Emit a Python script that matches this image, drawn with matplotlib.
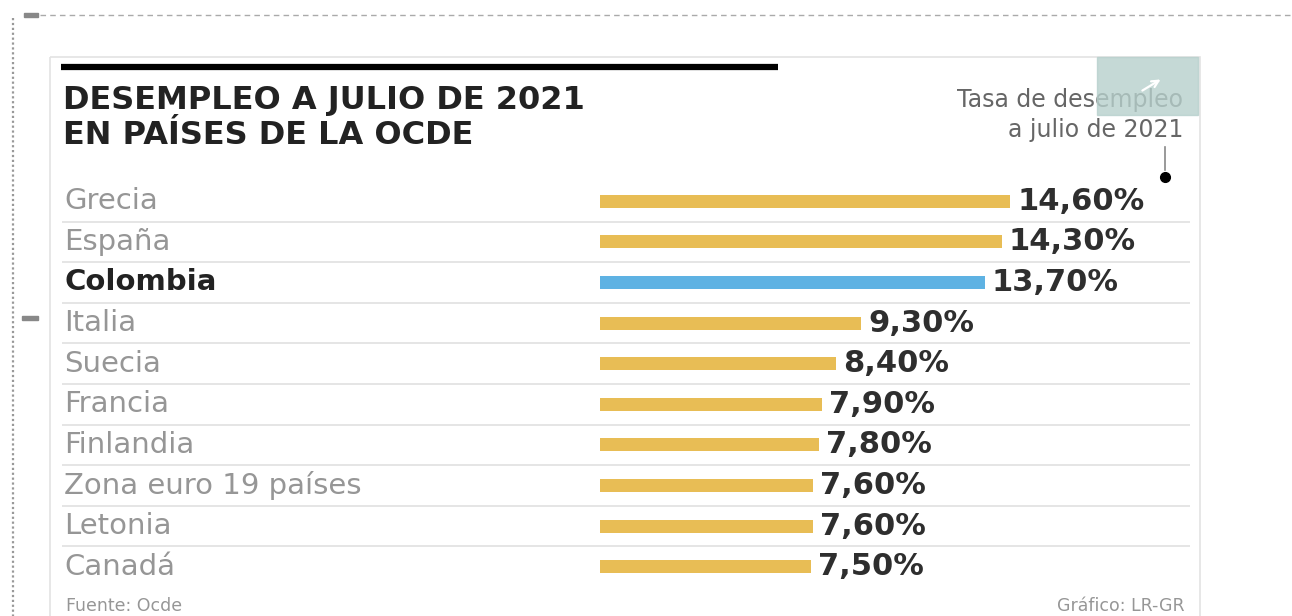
import matplotlib.pyplot as plt
from matplotlib.patches import Rectangle, FancyArrowPatch
from matplotlib.lines import Line2D

# datos (Fuente: Ocde)
paises = ["Grecia", "España", "Colombia", "Italia", "Suecia", "Francia",
          "Finlandia", "Zona euro 19 países", "Letonia", "Canadá"]
tasas = [14.6, 14.3, 13.7, 9.3, 8.4, 7.9, 7.8, 7.6, 7.6, 7.5]
etiquetas = ["14,60%", "14,30%", "13,70%", "9,30%", "8,40%", "7,90%",
             "7,80%", "7,60%", "7,60%", "7,50%"]
destacado = "Colombia"

W, H = 1292, 616
ORO = "#E8BD55"
AZUL = "#5EB2E3"
GRIS = "#969696"
OSCURO = "#2e2e2e"
FONT = ["DejaVu Sans"]

fig = plt.figure(figsize=(W / 100, H / 100), dpi=100)
fig.patch.set_facecolor("white")

# capa de fondo en coordenadas de pixel
bg = fig.add_axes([0, 0, 1, 1])
bg.set_xlim(0, W)
bg.set_ylim(H, 0)
bg.axis("off")

# bordes punteados del recorte
bg.add_line(Line2D([13, 13], [18, H], color="#999999", lw=1.6, ls=(0, (1, 1.2))))
bg.add_line(Line2D([40, W], [15, 15], color="#aaaaaa", lw=1.0, ls=(0, (4, 3))))
bg.add_patch(Rectangle((24, 13), 14, 4, color="#888888"))
bg.add_patch(Rectangle((22, 316), 16, 4, color="#888888"))

# tarjeta
bg.add_patch(Rectangle((50, 57), 1150, 565, fill=False, ec="#e3e3e3", lw=1.2))
bg.add_line(Line2D([61, 778], [66.5, 66.5], color="black", lw=4.5, solid_capstyle="butt"))

for y, linea in [(101, "DESEMPLEO A JULIO DE 2021"), (135, "EN PAÍSES DE LA OCDE")]:
    bg.text(63, y, linea, fontsize=23, fontweight="bold", color="#222222",
            va="center", ha="left", family=FONT)

bg.text(1183, 100, "Tasa de desempleo", fontsize=17, color="#666666", ha="right",
        va="center", family=FONT, zorder=2)
bg.text(1183, 130, "a julio de 2021", fontsize=17, color="#666666", ha="right",
        va="center", family=FONT, zorder=2)
bg.add_line(Line2D([1165, 1165], [147, 170], color="#888888", lw=1.2))
bg.plot([1165], [177], "o", color="black", ms=7)

# recuadro del icono (superpuesto al texto)
bg.add_patch(Rectangle((1097, 57), 101, 58, color="#b7d0cc", alpha=0.8, zorder=3))
bg.add_patch(FancyArrowPatch((1140, 92), (1163, 78), arrowstyle="->", color="white",
                             lw=1.6, mutation_scale=12, zorder=4))

bg.text(66, 606, "Fuente: Ocde", fontsize=12.5, color=GRIS, ha="left", va="center",
        family=FONT)
bg.text(1185, 606, "Gráfico: LR-GR", fontsize=12.5, color=GRIS, ha="right", va="center",
        family=FONT)

# eje de barras: 0 -> x=600px, 14.6 -> x=1010px
x0_px, x1_px = 62, 1190
y_top, y_bot = 181, 587
escala = (1010 - 600) / 14.6
ax = fig.add_axes([x0_px / W, 1 - y_bot / H, (x1_px - x0_px) / W, (y_bot - y_top) / H])
ax.set_xlim(-(600 - x0_px) / escala, (x1_px - 600) / escala)
ax.set_ylim(len(paises) - 0.5, -0.5)
ax.axis("off")

pos = list(range(len(paises)))
colores = [AZUL if p == destacado else ORO for p in paises]
ax.barh(pos, tasas, height=0.32, color=colores)

for i in pos[:-1]:
    ax.axhline(i + 0.5, color="#e0e0e0", lw=1.2)

for i, (p, v, lab) in enumerate(zip(paises, tasas, etiquetas)):
    es_dest = p == destacado
    ax.text(0.002, i, p, transform=ax.get_yaxis_transform(), fontsize=21,
            color="#222222" if es_dest else GRIS,
            fontweight="bold" if es_dest else "normal",
            va="center", ha="left", family=FONT)
    ax.text(v + 0.25, i, lab, fontsize=22, fontweight="bold", color=OSCURO,
            va="center", ha="left", family=FONT)

fig.savefig("out.png", dpi=100, facecolor="white")
